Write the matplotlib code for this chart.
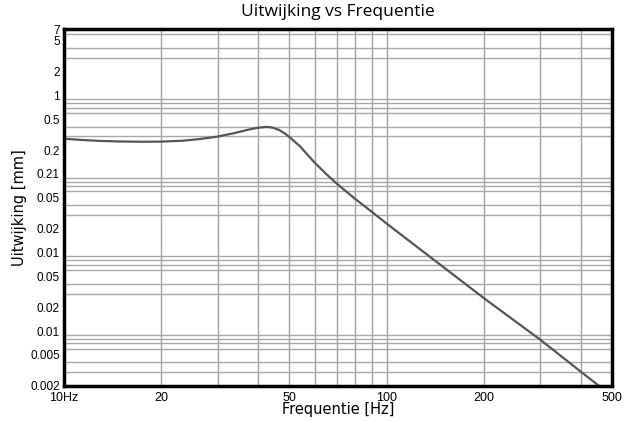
import numpy as np
import matplotlib
matplotlib.use("Agg")
import matplotlib.pyplot as plt
from matplotlib.ticker import FixedLocator, FixedFormatter, NullFormatter, LogLocator

# curve (frequency in Hz, excursion on the log axis)
freq = [10, 11.5, 13, 15, 17.5, 20, 23.4, 26.5, 29.8, 33.5, 37.7, 40, 42.5, 44.5,
        46.5, 48.5, 50.5, 53.9, 57, 60, 65, 70, 80, 90, 100, 200, 300, 400, 500]
excursion = [2.81, 2.70, 2.63, 2.59, 2.57, 2.58, 2.65, 2.79, 2.98, 3.29, 3.70, 3.88,
             3.97, 3.88, 3.62, 3.25, 2.85, 2.25, 1.74, 1.38, 1.0, 0.755, 0.48, 0.33,
             0.234, 0.0264, 0.00774, 0.00305, 0.00149]

x_ticks = [10, 20, 50, 100, 200, 500]
x_labels = ["10Hz", "20", "50", "100", "200", "500"]
x_grid = [20, 30, 40, 50, 60, 70, 80, 90, 100, 200, 300, 400]

# y tick positions and the (odd) labels shown next to them
y_ticks = [0.002, 0.005, 0.01, 0.02, 0.05, 0.1, 0.2, 0.5, 1, 2, 5, 10, 20, 50, 70]
y_labels = ["0.002", "0.005", "0.01", "0.02", "0.05", "0.01", "0.02", "0.05",
            "0.21", "0.2", "0.5", "1", "2", "5", "7"]

fig = plt.figure(figsize=(6.32, 4.21), dpi=100)
ax = fig.add_axes([64 / 632, 1 - 386 / 421, 548 / 632, 357 / 421])
ax.set_xscale("log")
ax.set_yscale("log")
ax.set_xlim(10, 500)
ax.set_ylim(0.002, 70)

# grid
for xv in x_grid:
    ax.axvline(xv, color="#a0a0a0", lw=1, zorder=1)
ax.yaxis.set_minor_locator(LogLocator(base=10, subs=np.arange(1, 10)))
ax.yaxis.set_minor_formatter(NullFormatter())
ax.grid(True, which="minor", axis="y", color="#a8a8a8", lw=1, zorder=1)

ax.plot(freq, excursion, color="#555555", lw=1.6, zorder=3)

ax.xaxis.set_major_locator(FixedLocator(x_ticks))
ax.xaxis.set_major_formatter(FixedFormatter(x_labels))
ax.xaxis.set_minor_locator(FixedLocator([]))
ax.yaxis.set_major_locator(FixedLocator(y_ticks))
ax.yaxis.set_major_formatter(FixedFormatter(y_labels))
ax.tick_params(which="both", length=0)
ax.tick_params(axis="y", pad=3)
ax.tick_params(axis="x", pad=4)

tick_font = ["Liberation Sans Narrow", "Liberation Sans"]
for lab in ax.get_xticklabels():
    lab.set_family(tick_font)
    lab.set_fontsize(9)
for lab in ax.get_yticklabels():
    lab.set_family("Liberation Sans")
    lab.set_fontsize(8.5)

for sp in ax.spines.values():
    sp.set_linewidth(2.5)
    sp.set_color("black")
    sp.set_zorder(4)

ax.set_title("Uitwijking vs Frequentie", family="Open Sans", fontsize=12.5, pad=9)
ax.set_xlabel("Frequentie [Hz]", family="DejaVu Sans", fontsize=10.5, labelpad=-1)
ax.set_ylabel("Uitwijking [mm]", family="DejaVu Sans", fontsize=10.5, labelpad=2)

fig.savefig("out.png", dpi=100)
